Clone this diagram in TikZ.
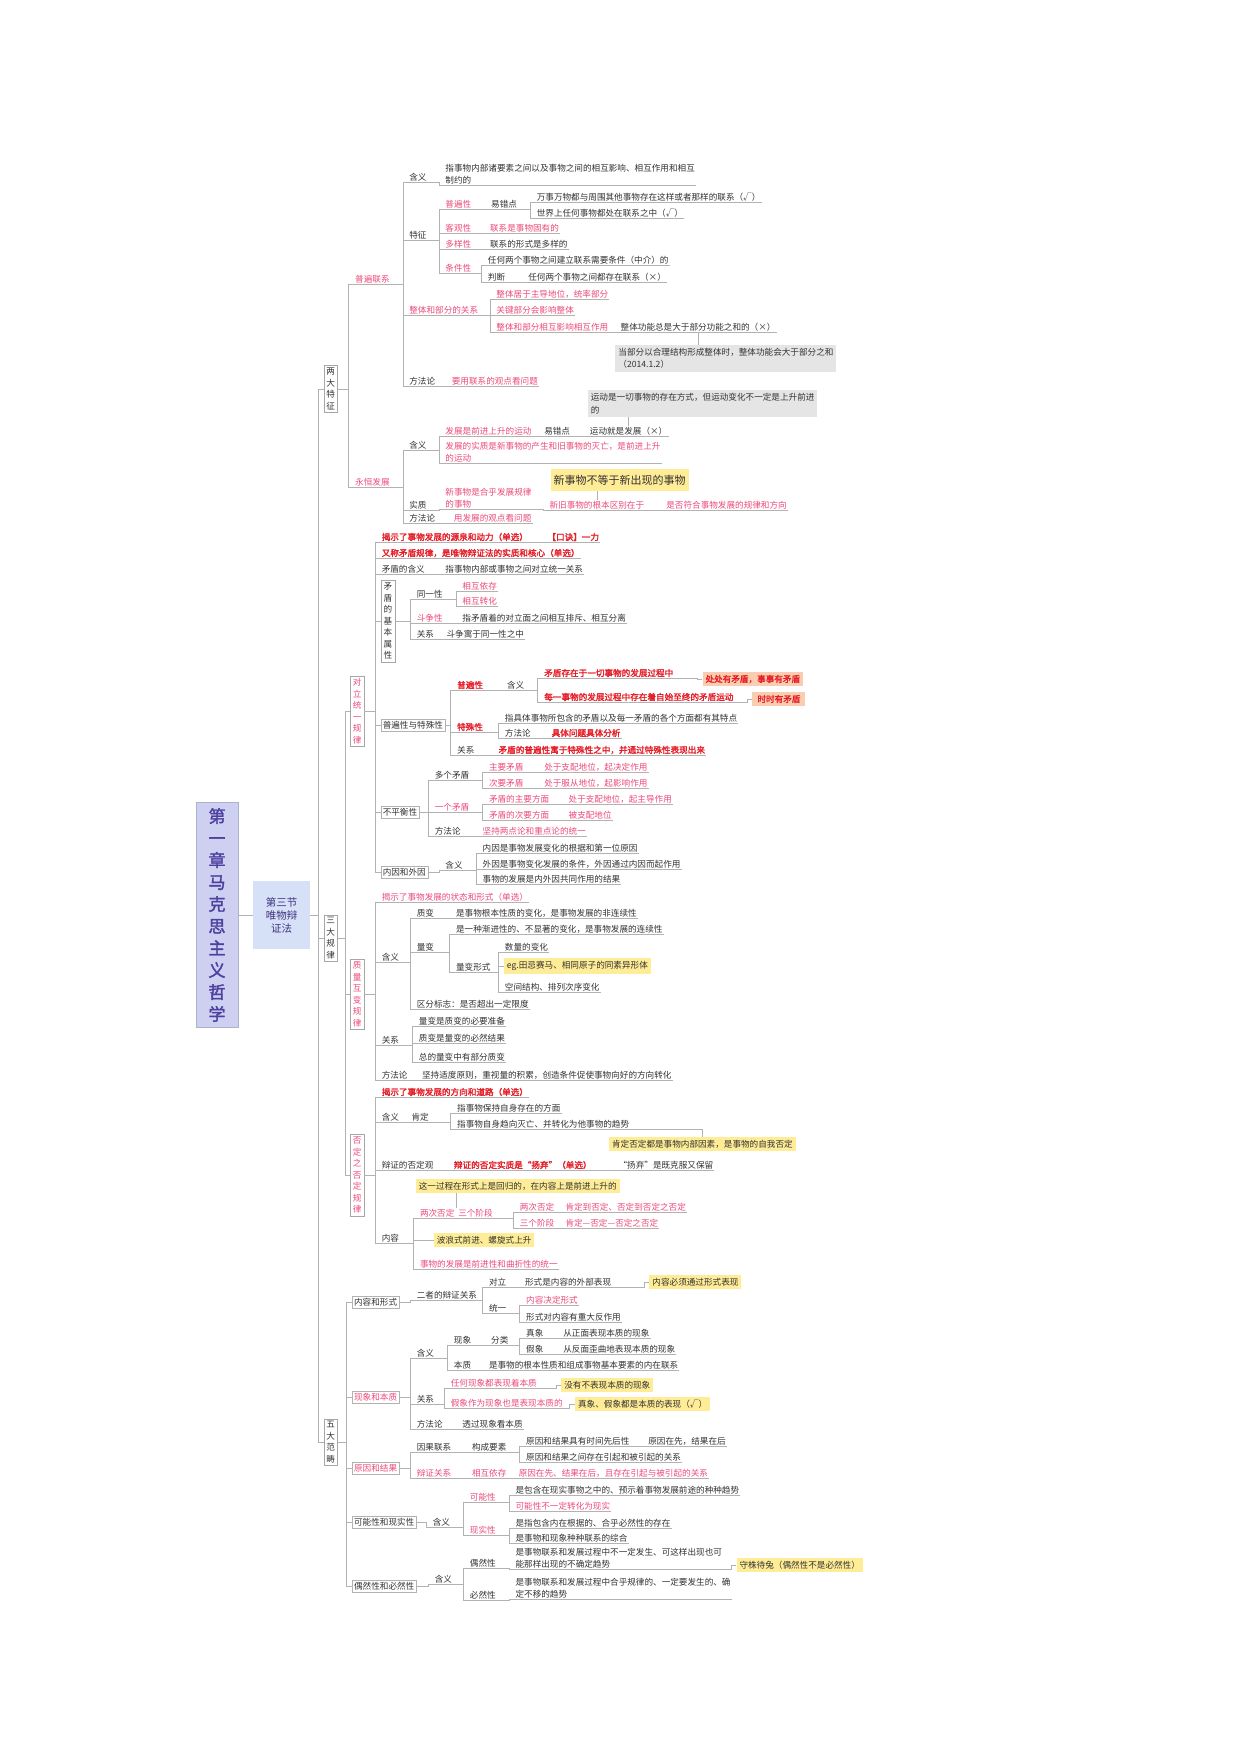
\documentclass[tikz,border=0pt]{standalone}
\usepackage{fontspec}
\setmainfont{Noto Sans CJK SC}[AutoFakeBold=2]
\definecolor{mmred}{RGB}{236,74,122}
\definecolor{mmbold}{RGB}{230,30,40}
\definecolor{mmline}{RGB}{178,178,178}
\definecolor{mmtext}{RGB}{50,50,50}
\definecolor{mmyel}{RGB}{255,236,150}
\definecolor{mmgry}{RGB}{229,229,229}
\definecolor{mmorg}{RGB}{250,204,176}
\definecolor{mmtitle}{RGB}{205,208,240}
\definecolor{mmsec}{RGB}{214,224,246}
\definecolor{mmink}{RGB}{78,64,160}
% child underline + elbow back to the parent
\newcommand{\lk}[3][south east]{\draw[ln] (#3.south east) -- (#3.south west) -- ++(-5,0) |- (#2.#1);}
\newcommand{\lkb}[3][south east]{\draw[ln] (#3.west) -- ++(-5,0) |- (#2.#1);}

\begin{document}
\begin{tikzpicture}[
    x=1pt, y=-1pt,
    ln/.style={draw=mmline, line width=0.6pt},
    nt/.style={anchor=west, inner sep=1pt, align=left, text=mmtext, font=\fontsize{8.6}{12.5}\selectfont},
    nr/.style={nt, text=mmred},
    nb/.style={nt, text=mmbold, font=\fontsize{8.6}{12.5}\selectfont\bfseries},
    bx/.style={nt, draw=black!30, inner sep=2pt},
    vl/.style={draw=black!35, inner sep=2.5pt, text width=8.6pt, align=center, text=mmtext, font=\fontsize{8.6}{11.5}\selectfont},
    yb/.style={nt, fill=mmyel, inner sep=3pt},
    gb/.style={nt, fill=mmgry, inner sep=3pt},
    ob/.style={nb, fill=mmorg, inner sep=3pt},
    ttl/.style={fill=mmtitle, draw=mmtitle!85!black, minimum width=42pt, minimum height=225pt, inner sep=0pt, align=center, text=mmink, font=\fontsize{17}{22}\selectfont\bfseries},
    sec/.style={fill=mmsec, minimum width=57pt, minimum height=68pt, inner sep=0pt, align=center, text=mmink!80!black, font=\fontsize{10.5}{13}\selectfont},
  ]
  \fill[white] (0,0) rectangle (1241,1754);
  \useasboundingbox (0,0) rectangle (1241,1754);

  % root
  \node[ttl] (zhang) at (217,915) {第\\一\\章\\马\\克\\思\\主\\义\\哲\\学};
  \node[sec] (jie) at (281.5,915) {第三节\\唯物辩\\证法};
  \draw[ln] (zhang.east) -- (jie.west);

  \begin{scope}[x=1.062pt, xshift=-19.8pt]
  \node[vl] (ldtz) at (330,389) {两\\大\\特\\征};
  \node[vl] (sdgl) at (330,938) {三\\大\\规\\律};
  \node[vl] (wdfc) at (330,1442) {五\\大\\范\\畴};
  \lkb[east]{jie}{ldtz} \lkb[east]{jie}{sdgl} \lkb[east]{jie}{wdfc}

  % 两大特征
  \node[nr] (pblx) at (352,279) {普遍联系};
  \node[nr] (yhfz) at (352,482) {永恒发展};
  \lk[east]{ldtz}{pblx} \lk[east]{ldtz}{yhfz}

  \node[nt] (hy1) at (403,177) {含义};
  \node[nt] (hy1a) at (437,174) {指事物内部诸要素之间以及事物之间的相互影响、相互作用和相互\\制约的};
  \node[nt] (tz) at (403,235) {特征};
  \node[nr] (ztbf) at (403,310) {整体和部分的关系};
  \node[nt] (ffl1) at (403,381) {方法论};
  \lk{pblx}{hy1} \lk{hy1}{hy1a} \lk{pblx}{tz} \lk{pblx}{ztbf} \lk{pblx}{ffl1}

  \node[nr] (pbx) at (437,204) {普遍性};
  \node[nt] (ycd1) at (480,204) {易错点};
  \node[nt] (pb1) at (523,197) {万事万物都与周围其他事物存在这样或者那样的联系（√）};
  \node[nt] (pb2) at (523,213) {世界上任何事物都处在联系之中（√）};
  \node[nr] (kgx) at (437,228) {客观性};
  \node[nr] (kg1) at (479,228) {联系是事物固有的};
  \node[nr] (dyx) at (437,244) {多样性};
  \node[nt] (dy1) at (479,244) {联系的形式是多样的};
  \node[nr] (tjx) at (437,268) {条件性};
  \node[nt] (tj1) at (477,260) {任何两个事物之间建立联系需要条件（中介）的};
  \node[nt] (pd1) at (477,277) {判断};
  \node[nt] (pd1a) at (515,277) {任何两个事物之间都存在联系（×）};
  \lk{tz}{pbx} \lk{pbx}{ycd1} \lk{ycd1}{pb1} \lk{ycd1}{pb2}
  \lk{tz}{kgx} \lk{kgx}{kg1} \lk{tz}{dyx} \lk{dyx}{dy1}
  \lk{tz}{tjx} \lk{tjx}{tj1} \lk{tjx}{pd1} \lk{pd1}{pd1a}

  \node[nr] (zb1) at (485,294) {整体居于主导地位，统率部分};
  \node[nr] (zb2) at (485,310) {关键部分会影响整体};
  \node[nr] (zb3) at (485,327) {整体和部分相互影响相互作用};
  \node[nt] (zb3a) at (602,327) {整体功能总是大于部分功能之和的（×）};
  \node[gb, anchor=north west] (gb1) at (598,345) {当部分以合理结构形成整体时，整体功能会大于部分之和\\（2014.1.2）};
  \lk{ztbf}{zb1} \lk{ztbf}{zb2} \lk{ztbf}{zb3} \lk{zb3}{zb3a}
  \draw[ln] (zb3a.south) -- (zb3a.south |- gb1.north);

  \node[nr] (ffl1a) at (443,381) {要用联系的观点看问题};
  \lk{ffl1}{ffl1a}

  \node[nt] (hy2) at (403,445) {含义};
  \node[nt] (sz) at (403,505) {实质};
  \node[nt] (ffl2) at (403,518) {方法论};
  \lk{yhfz}{hy2} \lk{yhfz}{sz} \lk{yhfz}{ffl2}

  \node[nr] (fz1) at (437,431) {发展是前进上升的运动};
  \node[nt] (ycd2) at (530,431) {易错点};
  \node[nt] (fz1a) at (573,431) {运动就是发展（×）};
  \node[gb, anchor=north west] (gb2) at (572,390) {运动是一切事物的存在方式，但运动变化不一定是上升前进\\的};
  \node[nr] (fz2) at (437,452) {发展的实质是新事物的产生和旧事物的灭亡，是前进上升\\的运动};
  \lk{hy2}{fz1} \lk{fz1}{ycd2} \lk{ycd2}{fz1a} \lk{hy2}{fz2}
  \draw[ln] (fz1a.north) -- (fz1a.north |- gb2.south);

  \node[nr] (sz1) at (437,498) {新事物是合乎发展规律\\的事物};
  \node[yb, anchor=center, inner ysep=6pt, font=\fontsize{11}{13}\selectfont] (yb1) at (602,480) {新事物不等于新出现的事物};
  \node[nr] (sz2) at (535,505) {新旧事物的根本区别在于};
  \node[nr] (sz3) at (645,505) {是否符合事物发展的规律和方向};
  \lk{sz}{sz1} \lk{sz1}{sz2} \lk{sz2}{sz3}
  \draw[ln] (sz2.north) -- (sz2.north |- yb1.south);

  \node[nr] (ffl2a) at (445,518) {用发展的观点看问题};
  \lk{ffl2}{ffl2a}

  % 三大规律
  \node[vl, text=mmred] (dtgl) at (355,711) {对\\立\\统\\一\\规\\律};
  \node[vl, text=mmred] (zlgl) at (355,994) {质\\量\\互\\变\\规\\律};
  \node[vl, text=mmred] (fdgl) at (355,1175) {否\\定\\之\\否\\定\\规\\律};
  \lkb[east]{sdgl}{dtgl} \lkb[east]{sdgl}{zlgl} \lkb[east]{sdgl}{fdgl}

  \node[nb] (jsl1) at (377,537) {揭示了事物发展的源泉和动力（单选）};
  \node[nb] (kj) at (533,537) {【口诀】一力};
  \node[nb] (jsl2) at (377,553) {又称矛盾规律，是唯物辩证法的实质和核心（单选）};
  \node[nt] (mdhy) at (377,569) {矛盾的含义};
  \node[nt] (mdhya) at (437,569) {指事物内部或事物之间对立统一关系};
  \node[vl] (mdsx) at (384,621) {矛\\盾\\的\\基\\本\\属\\性};
  \node[bx] (pbts) at (377,725) {普遍性与特殊性};
  \node[bx] (bphx) at (377,812) {不平衡性};
  \node[bx] (nywy) at (377,872) {内因和外因};
  \lk[east]{dtgl}{jsl1} \lk{jsl1}{kj} \lk[east]{dtgl}{jsl2} \lk[east]{dtgl}{mdhy} \lk{mdhy}{mdhya}
  \lkb[east]{dtgl}{mdsx} \lkb[east]{dtgl}{pbts} \lkb[east]{dtgl}{bphx} \lkb[east]{dtgl}{nywy}

  \node[nt] (tyx) at (410,594) {同一性};
  \node[nr] (xhyc) at (453,586) {相互依存};
  \node[nr] (xhzh) at (453,601) {相互转化};
  \node[nr] (dzx) at (410,618) {斗争性};
  \node[nt] (dzxa) at (453,618) {指矛盾着的对立面之间相互排斥、相互分离};
  \node[nt] (gx1) at (410,634) {关系};
  \node[nt] (gx1a) at (438,634) {斗争寓于同一性之中};
  \lk[east]{mdsx}{tyx} \lk{tyx}{xhyc} \lk{tyx}{xhzh} \lk[east]{mdsx}{dzx} \lk{dzx}{dzxa}
  \lk[east]{mdsx}{gx1} \lk{gx1}{gx1a}

  \node[nb] (pbx2) at (448,685) {普遍性};
  \node[nt] (hy3) at (495,685) {含义};
  \node[nb] (m1) at (530,673) {矛盾存在于一切事物的发展过程中};
  \node[ob] (ob1) at (680,679) {处处有矛盾，事事有矛盾};
  \node[nb] (m2) at (530,697) {每一事物的发展过程中存在着自始至终的矛盾运动};
  \node[ob, inner xsep=5pt] (ob2) at (727,699) {时时有矛盾};
  \node[nb] (tsx) at (448,727) {特殊性};
  \node[nt] (ts1) at (493,718) {指具体事物所包含的矛盾以及每一矛盾的各个方面都有其特点};
  \node[nt] (ffl3) at (493,733) {方法论};
  \node[nb] (ts2) at (537,733) {具体问题具体分析};
  \node[nt] (gx2) at (448,750) {关系};
  \node[nb] (gx2a) at (487,750) {矛盾的普遍性寓于特殊性之中，并通过特殊性表现出来};
  \lk[east]{pbts}{pbx2} \lk{pbx2}{hy3} \lk{hy3}{m1} \lk{hy3}{m2} \lkb{m1}{ob1} \lkb{m2}{ob2}
  \lk[east]{pbts}{tsx} \lk{tsx}{ts1} \lk{tsx}{ffl3} \lk{ffl3}{ts2}
  \lk[east]{pbts}{gx2} \lk{gx2}{gx2a}

  \node[nt] (dgmd) at (427,775) {多个矛盾};
  \node[nr] (zymd) at (478,767) {主要矛盾};
  \node[nr] (zymda) at (530,767) {处于支配地位，起决定作用};
  \node[nr] (cymd) at (478,783) {次要矛盾};
  \node[nr] (cymda) at (530,783) {处于服从地位，起影响作用};
  \node[nr] (ygmd) at (427,807) {一个矛盾};
  \node[nr] (zyfm) at (478,799) {矛盾的主要方面};
  \node[nr] (zyfma) at (553,799) {处于支配地位，起主导作用};
  \node[nr] (cyfm) at (478,815) {矛盾的次要方面};
  \node[nr] (cyfma) at (553,815) {被支配地位};
  \node[nt] (ffl4) at (427,831) {方法论};
  \node[nr] (ffl4a) at (472,831) {坚持两点论和重点论的统一};
  \lk[east]{bphx}{dgmd} \lk{dgmd}{zymd} \lk{zymd}{zymda} \lk{dgmd}{cymd} \lk{cymd}{cymda}
  \lk[east]{bphx}{ygmd} \lk{ygmd}{zyfm} \lk{zyfm}{zyfma} \lk{ygmd}{cyfm} \lk{cyfm}{cyfma}
  \lk[east]{bphx}{ffl4} \lk{ffl4}{ffl4a}

  \node[nt] (hy4) at (437,865) {含义};
  \node[nt] (ny1) at (472,848) {内因是事物发展变化的根据和第一位原因};
  \node[nt] (ny2) at (472,864) {外因是事物变化发展的条件，外因通过内因而起作用};
  \node[nt] (ny3) at (472,879) {事物的发展是内外因共同作用的结果};
  \lk[east]{nywy}{hy4} \lk{hy4}{ny1} \lk{hy4}{ny2} \lk{hy4}{ny3}

  \node[nr] (jsl3) at (377,897) {揭示了事物发展的状态和形式（单选）};
  \node[nt] (hy5) at (377,957) {含义};
  \node[nt] (gx3) at (377,1040) {关系};
  \node[nt] (ffl5) at (377,1075) {方法论};
  \lk[east]{zlgl}{jsl3} \lk[east]{zlgl}{hy5} \lk[east]{zlgl}{gx3} \lk[east]{zlgl}{ffl5}

  \node[nt] (zbian) at (410,913) {质变};
  \node[nt] (zbiana) at (447,913) {是事物根本性质的变化，是事物发展的非连续性};
  \node[nt] (lbian) at (410,947) {量变};
  \node[nt] (lbiana) at (447,929) {是一种渐进性的、不显著的变化，是事物发展的连续性};
  \node[nt] (lbxs) at (447,967) {量变形式};
  \node[nt] (slbh) at (493,947) {数量的变化};
  \node[yb] (yb2) at (493,966) {eg.田忌赛马、相同原子的同素异形体};
  \node[nt] (kjjg) at (493,987) {空间结构、排列次序变化};
  \node[nt] (qfbz) at (410,1004) {区分标志：是否超出一定限度};
  \lk{hy5}{zbian} \lk{zbian}{zbiana} \lk{hy5}{lbian} \lk{lbian}{lbiana} \lk{lbian}{lbxs}
  \lk{lbxs}{slbh} \lkb{lbxs}{yb2} \lk{lbxs}{kjjg} \lk{hy5}{qfbz}

  \node[nt] (zl1) at (412,1021) {量变是质变的必要准备};
  \node[nt] (zl2) at (412,1038) {质变是量变的必然结果};
  \node[nt] (zl3) at (412,1057) {总的量变中有部分质变};
  \node[nt] (ffl5a) at (415,1075) {坚持适度原则，重视量的积累，创造条件促使事物向好的方向转化};
  \lk{gx3}{zl1} \lk{gx3}{zl2} \lk{gx3}{zl3} \lk{ffl5}{ffl5a}

  \node[nb] (jsl4) at (377,1092) {揭示了事物发展的方向和道路（单选）};
  \node[nt] (hy6) at (377,1117) {含义};
  \node[nt] (kd) at (405,1117) {肯定};
  \node[nt] (kd1) at (448,1108) {指事物保持自身存在的方面};
  \node[nt] (kd2) at (448,1124) {指事物自身趋向灭亡、并转化为他事物的趋势};
  \node[yb] (yb3) at (592,1144) {肯定否定都是事物内部因素，是事物的自我否定};
  \lk[east]{fdgl}{jsl4} \lk[east]{fdgl}{hy6} \lk{hy6}{kd} \lk{kd}{kd1} \lk{kd}{kd2}
  \draw[ln] (kd2.south east) -| (yb3.north);

  \node[nt] (bzfd) at (377,1165) {辩证的否定观};
  \node[nb] (yq1) at (445,1165) {辩证的否定实质是“扬弃”（单选）};
  \node[nt] (yq2) at (600,1165) {“扬弃”是既克服又保留};
  \node[yb] (yb4) at (410,1186) {这一过程在形式上是回归的，在内容上是前进上升的};
  \lk[east]{fdgl}{bzfd} \lk{bzfd}{yq1} \lk{yq1}{yq2}

  \node[nt] (nrong) at (377,1238) {内容};
  \node[nr] (lcfd) at (413,1213) {两次否定\ \ 三个阶段};
  \node[nr] (lcfd1) at (507,1207) {两次否定};
  \node[nr] (lcfd1a) at (550,1207) {肯定到否定、否定到否定之否定};
  \node[nr] (sgjd) at (507,1223) {三个阶段};
  \node[nr] (sgjda) at (550,1223) {肯定—否定—否定之否定};
  \node[yb] (yb5) at (427,1240) {波浪式前进、螺旋式上升};
  \node[nr] (nrong3) at (413,1264) {事物的发展是前进性和曲折性的统一};
  \lk[east]{fdgl}{nrong} \lk{nrong}{lcfd} \lk{lcfd}{lcfd1} \lk{lcfd1}{lcfd1a} \lk{lcfd}{sgjd} \lk{sgjd}{sgjda}
  \draw[ln] (yb5.west) -- (yb5.west -| lcfd.west) -- ++(-5,0) |- (nrong.south east);
  \lk{nrong}{nrong3}
  \draw[ln] (lcfd.north) -- (lcfd.north |- yb4.south);

  % 五大范畴
  \node[bx] (nrxs) at (350,1302) {内容和形式};
  \node[bx, text=mmred] (xxbz) at (350,1397) {现象和本质};
  \node[bx, text=mmred] (yyjg) at (350,1468) {原因和结果};
  \node[bx] (knxs) at (350,1522) {可能性和现实性};
  \node[bx] (orbr) at (350,1586) {偶然性和必然性};
  \lkb[east]{wdfc}{nrxs} \lkb[east]{wdfc}{xxbz} \lkb[east]{wdfc}{yyjg} \lkb[east]{wdfc}{knxs} \lkb[east]{wdfc}{orbr}

  \node[nt] (bzgx) at (410,1295) {二者的辩证关系};
  \node[nt] (dl) at (478,1282) {对立};
  \node[nt] (dla) at (512,1282) {形式是内容的外部表现};
  \node[yb] (yb6) at (630,1282) {内容必须通过形式表现};
  \node[nt] (ty) at (478,1308) {统一};
  \node[nr] (tya) at (513,1300) {内容决定形式};
  \node[nt] (tyb) at (513,1317) {形式对内容有重大反作用};
  \lk[east]{nrxs}{bzgx} \lk{bzgx}{dl} \lk{dl}{dla} \lkb{dla}{yb6} \lk{bzgx}{ty} \lk{ty}{tya} \lk{ty}{tyb}

  \node[nt] (hy7) at (410,1353) {含义};
  \node[nt] (xx) at (445,1340) {现象};
  \node[nt] (fl) at (480,1340) {分类};
  \node[nt] (zx1) at (513,1333) {真象};
  \node[nt] (zx1a) at (548,1333) {从正面表现本质的现象};
  \node[nt] (jx) at (513,1349) {假象};
  \node[nt] (jxa) at (548,1349) {从反面歪曲地表现本质的现象};
  \node[nt] (bz) at (445,1365) {本质};
  \node[nt] (bza) at (478,1365) {是事物的根本性质和组成事物基本要素的内在联系};
  \lk[east]{xxbz}{hy7} \lk{hy7}{xx} \lk{xx}{fl} \lk{fl}{zx1} \lk{zx1}{zx1a} \lk{fl}{jx} \lk{jx}{jxa}
  \lk{hy7}{bz} \lk{bz}{bza}

  \node[nt] (gx4) at (410,1399) {关系};
  \node[nr] (rh) at (442,1383) {任何现象都表现着本质};
  \node[yb] (yb7) at (547,1385) {没有不表现本质的现象};
  \node[nr] (jxxx) at (442,1403) {假象作为现象也是表现本质的};
  \node[yb] (yb8) at (560,1404) {真象、假象都是本质的表现（√）};
  \node[nt] (ffl6) at (410,1424) {方法论};
  \node[nt] (ffl6a) at (453,1424) {透过现象看本质};
  \lk[east]{xxbz}{gx4} \lk{gx4}{rh} \lkb{rh}{yb7} \lk{gx4}{jxxx} \lkb{jxxx}{yb8}
  \lk[east]{xxbz}{ffl6} \lk{ffl6}{ffl6a}

  \node[nt] (yglx) at (410,1447) {因果联系};
  \node[nt] (gcys) at (462,1447) {构成要素};
  \node[nt] (yg1) at (513,1441) {原因和结果具有时间先后性};
  \node[nt] (yg1a) at (628,1441) {原因在先，结果在后};
  \node[nt] (yg2) at (513,1457) {原因和结果之间存在引起和被引起的关系};
  \node[nr] (bzgx2) at (410,1473) {辩证关系};
  \node[nr] (xhyc2) at (462,1473) {相互依存};
  \node[nr] (xhyc2a) at (506,1473) {原因在先、结果在后，且存在引起与被引起的关系};
  \lk[east]{yyjg}{yglx} \lk{yglx}{gcys} \lk{gcys}{yg1} \lk{yg1}{yg1a} \lk{gcys}{yg2}
  \lk[east]{yyjg}{bzgx2} \lk{bzgx2}{xhyc2} \lk{xhyc2}{xhyc2a}

  \node[nt] (hy8) at (425,1522) {含义};
  \node[nr] (knx) at (460,1497) {可能性};
  \node[nt] (kn1) at (503,1490) {是包含在现实事物之中的、预示着事物发展前途的种种趋势};
  \node[nr] (kn2) at (503,1506) {可能性不一定转化为现实};
  \node[nr] (xsx) at (460,1530) {现实性};
  \node[nt] (xs1) at (503,1523) {是指包含内在根据的、合乎必然性的存在};
  \node[nt] (xs2) at (503,1538) {是事物和现象种种联系的综合};
  \lk[east]{knxs}{hy8} \lk{hy8}{knx} \lk{knx}{kn1} \lk{knx}{kn2} \lk{hy8}{xsx} \lk{xsx}{xs1} \lk{xsx}{xs2}

  \node[nt] (hy9) at (427,1579) {含义};
  \node[nt] (orx) at (460,1563) {偶然性};
  \node[nt] (orxa) at (503,1558) {是事物联系和发展过程中不一定发生、可这样出现也可\\能那样出现的不确定趋势};
  \node[yb] (yb9) at (712,1565) {守株待兔（偶然性不是必然性）};
  \node[nt] (brx) at (460,1595) {必然性};
  \node[nt] (brxa) at (503,1588) {是事物联系和发展过程中合乎规律的、一定要发生的、确\\定不移的趋势};
  \lk[east]{orbr}{hy9} \lk{hy9}{orx} \lk{orx}{orxa} \lkb{orxa}{yb9} \lk{hy9}{brx} \lk{brx}{brxa}
  \end{scope}

\end{tikzpicture}
\end{document}
